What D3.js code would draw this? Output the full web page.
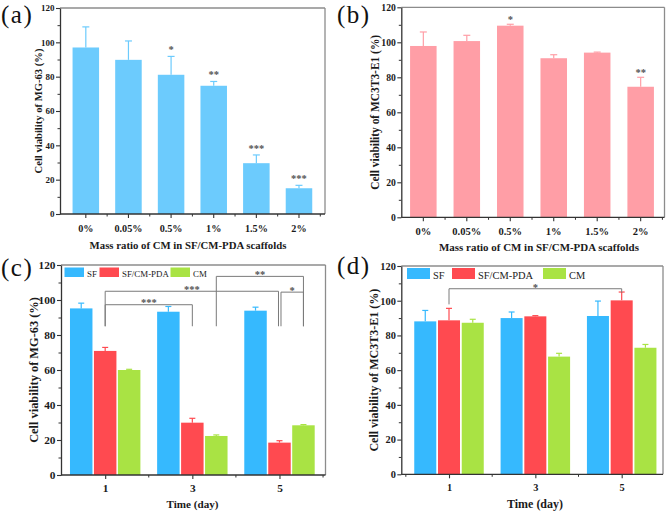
<!DOCTYPE html>
<html><head><meta charset="utf-8">
<script src="https://cdn.jsdelivr.net/npm/d3@7"></script>
<style>body{margin:0;background:#fff}svg{display:block}</style>
</head><body>
<script>
// ---------------- data ----------------
const ratioLabels = ["0%", "0.05%", "0.5%", "1%", "1.5%", "2%"];
const mg63Ratio = [97.0, 89.8, 81.1, 74.7, 29.6, 15.0];
const mg63RatioErr = [12.0, 11.0, 10.7, 2.5, 4.8, 1.7];
const mg63RatioSig = ["", "", "*", "**", "***", "***"];
const mc3t3Ratio = [97.9, 100.7, 109.5, 90.9, 94.1, 74.6];
const mc3t3RatioErr = [8.0, 3.3, 0.8, 2.0, 0.3, 5.4];
const mc3t3RatioSig = ["", "", "*", "", "", "**"];

const days = [1, 3, 5];
const groupNames = ["SF", "SF/CM-PDA", "CM"];
const mg63SF = [95.2, 93.3, 93.9], mg63SFErr = [3.0, 3.0, 2.0];
const mg63PDA = [70.9, 29.9, 18.5], mg63PDAErr = [2.0, 2.5, 1.1];
const mg63CM = [60.0, 22.3, 28.4], mg63CMErr = [0.4, 0.6, 0.4];
const mc3t3SF = [88.1, 90.0, 91.2], mc3t3SFErr = [6.3, 3.5, 8.6];
const mc3t3PDA = [88.7, 91.0, 100.2], mc3t3PDAErr = [6.9, 0.4, 4.8];
const mc3t3CM = [87.3, 67.8, 72.9], mc3t3CMErr = [2.0, 1.9, 1.9];

const yTickValues = [0, 20, 40, 60, 80, 100, 120];
const yMinorValues = [10, 30, 50, 70, 90, 110];

// significance brackets: endpoints [day, groupIndex], level & feet in %
const mg63Brackets = [
  {a: [1, 1], b: [3, 1], level: 97.3, footA: 85, footB: 85, label: "***"},
  {a: [1, 1], b: [5, 1], level: 105.0, footA: 85, footB: 85, label: "***"},
  {a: [3, 2], b: [5, 2], level: 113.5, footA: 85, footB: 85, label: "**"},
  {a: [5, 1], b: [5, 2], level: 104.5, footA: 85, footB: 85, label: "*"}
];
const mc3t3Brackets = [
  {a: [1, 1], b: [5, 1], level: 106.9, footA: 97.9, footB: 104.6, label: "*"}
];

// ---------------- style ----------------
const SERIF = '"Liberation Serif","Times New Roman",Times,serif';
const AXIS_COL = "#333";
const FRAME_COL = "#8c8c8c";
const TEXT_COL = "#1a1a1a";
const STAR_COL = "#555";
const groupColors = ["#36b9fe", "#ff4a50", "#a9e344"];

const svg = d3.select("body").append("svg").attr("width", 666).attr("height", 512);
svg.append("rect").attr("width", 666).attr("height", 512).attr("fill", "#fff");

// scale a text's font size so that its rendered width matches a target width
function fit(sel, target) {
  const w = sel.node().getComputedTextLength();
  if (w > 0) sel.attr("font-size", (+sel.attr("font-size")) * target / w);
  return sel;
}
function tickFactor(g, sampleText, target, baseSize) {
  const t = g.append("text").attr("font-family", SERIF).attr("font-weight", "bold")
    .attr("font-size", baseSize).text(sampleText);
  const w = t.node().getComputedTextLength();
  t.remove();
  return w > 0 ? baseSize * target / w : baseSize;
}

function frameAndY(g, p, y) {
  g.append("line").attr("x1", p.left).attr("x2", p.right).attr("y1", p.top).attr("y2", p.top)
    .attr("stroke", FRAME_COL).attr("stroke-width", 1.3);
  g.append("line").attr("x1", p.right).attr("x2", p.right).attr("y1", p.top).attr("y2", p.bottom)
    .attr("stroke", FRAME_COL).attr("stroke-width", 1.3);
  const ya = g.append("g").attr("transform", `translate(${p.left},0)`)
    .call(d3.axisLeft(y).tickValues(yTickValues).tickSize(4).tickSizeOuter(0).tickPadding(1.5).tickFormat(d3.format("d")));
  ya.select(".domain").attr("stroke", AXIS_COL).attr("stroke-width", 1.3);
  ya.selectAll(".tick line").attr("stroke", AXIS_COL).attr("stroke-width", 1.1);
  ya.selectAll(".tick text").attr("font-family", SERIF).attr("font-weight", "bold")
    .attr("font-size", p.tickFs).attr("fill", TEXT_COL);
  const ym = g.append("g").attr("transform", `translate(${p.left},0)`)
    .call(d3.axisLeft(y).tickValues(yMinorValues).tickSize(2.5).tickSizeOuter(0).tickFormat(""));
  ym.select(".domain").remove();
  ym.selectAll(".tick line").attr("stroke", AXIS_COL).attr("stroke-width", 1);
  const cy = (p.top + p.bottom) / 2;
  fit(g.append("text").attr("transform", `translate(${p.ytitleX},${cy}) rotate(-90)`)
    .attr("text-anchor", "middle").attr("dy", "0.35em")
    .attr("font-family", SERIF).attr("font-weight", "bold").attr("font-size", 11)
    .attr("fill", TEXT_COL).text(p.ytitle), p.ytitleW);
  fit(g.append("text").attr("x", p.xtitleX).attr("y", p.xtitleY).attr("text-anchor", "middle")
    .attr("font-family", SERIF).attr("font-weight", "bold").attr("font-size", 11)
    .attr("fill", TEXT_COL).text(p.xtitle), p.xtitleW);
  g.append("text").attr("x", p.labX).attr("y", p.labY).attr("letter-spacing", 1.5)
    .attr("font-family", SERIF).attr("font-size", 25).attr("fill", "#111").text(p.label);
}

function bottomAxisStyle(sel, fs) {
  sel.select(".domain").remove();
  sel.selectAll(".tick line").attr("stroke", AXIS_COL).attr("stroke-width", 1.1);
  sel.selectAll(".tick text").attr("font-family", SERIF).attr("font-weight", "bold")
    .attr("font-size", fs).attr("fill", TEXT_COL);
}

function errBar(g, x, yTop, yErr, color, cap) {
  g.append("line").attr("x1", x).attr("x2", x).attr("y1", yTop).attr("y2", yErr)
    .attr("stroke", color).attr("stroke-width", 1.2);
  g.append("line").attr("x1", x - cap / 2).attr("x2", x + cap / 2).attr("y1", yErr).attr("y2", yErr)
    .attr("stroke", color).attr("stroke-width", 1.2);
}

// ---------- ratio panels (a) & (b) ----------
function ratioPanel(p, values, errs, sigs, color) {
  const g = svg.append("g");
  p.tickFs = tickFactor(g, "100", p.tick100W, 10);
  const xFs = tickFactor(g, "0.05%", p.tickLabW, 10);
  const y = d3.scaleLinear().domain([0, 120]).range([p.bottom, p.top]);
  const x = d3.scaleBand().domain(ratioLabels).range(p.band).paddingInner(p.pad).paddingOuter(p.pad / 2);
  const bw = x.bandwidth();
  ratioLabels.forEach((c, i) => {
    g.append("rect").attr("x", x(c)).attr("y", y(values[i])).attr("width", bw)
      .attr("height", y(0) - y(values[i])).attr("fill", color);
    const cx = x(c) + bw / 2;
    errBar(g, cx, y(values[i]), y(values[i] + errs[i]), color, 7);
    if (sigs[i]) {
      g.append("text").attr("x", cx).attr("y", y(values[i] + errs[i]) - p.starGap)
        .attr("text-anchor", "middle").attr("font-family", SERIF).attr("font-weight", "bold")
        .attr("font-size", 10.5).attr("fill", STAR_COL).text(sigs[i]);
    }
  });
  frameAndY(g, p, y);
  const xa = g.append("g").attr("transform", `translate(0,${p.bottom})`)
    .call(d3.axisBottom(x).tickSize(4).tickSizeOuter(0).tickPadding(p.xpad));
  bottomAxisStyle(xa, xFs);
  g.append("line").attr("x1", p.left).attr("x2", p.right).attr("y1", p.bottom).attr("y2", p.bottom)
    .attr("stroke", AXIS_COL).attr("stroke-width", 1.3);
  const bounds = ratioLabels.slice(1).map(c => x(c) - x.step() * x.paddingInner() / 2);
  bounds.push(x(ratioLabels[5]) + bw + x.step() * x.paddingInner() / 2);
  bounds.forEach(bx => {
    if (bx < p.right - 1) g.append("line").attr("x1", bx).attr("x2", bx).attr("y1", p.bottom).attr("y2", p.bottom + 2.5)
      .attr("stroke", AXIS_COL).attr("stroke-width", 1);
  });
}

ratioPanel({left: 60, right: 325, top: 8, bottom: 214, band: [64.5, 320.3], pad: 0.378,
  xpad: 6.5, starGap: 3, tick100W: 13.5, tickLabW: 28,
  ytitle: "Cell viability of MG-63 (%)", ytitleX: 38, ytitleW: 125,
  xtitle: "Mass ratio of CM in SF/CM-PDA scaffolds", xtitleX: 188, xtitleY: 249, xtitleW: 197,
  label: "(a)", labX: 1, labY: 22.5}, mg63Ratio, mg63RatioErr, mg63RatioSig, "#6ccbfd");

ratioPanel({left: 401.3, right: 664.5, top: 7.3, bottom: 217.3, band: [401.6, 662.4], pad: 0.39,
  xpad: 6.2, starGap: 1, tick100W: 14.5, tickLabW: 29,
  ytitle: "Cell viability of MC3T3-E1 (%)", ytitleX: 374.5, ytitleW: 155,
  xtitle: "Mass ratio of CM in SF/CM-PDA scaffolds", xtitleX: 539, xtitleY: 251, xtitleW: 200,
  label: "(b)", labX: 337, labY: 22.5}, mc3t3Ratio, mc3t3RatioErr, mc3t3RatioSig, "#ff9ea6");

// ---------- time panels (c) & (d) ----------
function timePanel(p, series, errs, brackets, nudges) {
  const g = svg.append("g");
  p.tickFs = tickFactor(g, "100", p.tick100W, 10);
  const y = d3.scaleLinear().domain([0, 120]).range([p.bottom, p.top]);
  const x = d3.scaleLinear().domain(p.xdom).range([p.left, p.right]);
  const unit = x(1) - x(0);
  const step = unit * 0.55, bw = unit * p.bwFrac;
  const px = (d, gi) => x(d) + (gi - 1) * step;
  series.forEach((vals, gi) => {
    days.forEach((d, i) => {
      const cx = px(d, gi);
      g.append("rect").attr("x", cx - bw / 2).attr("y", y(vals[i])).attr("width", bw)
        .attr("height", y(0) - y(vals[i])).attr("fill", groupColors[gi]);
      errBar(g, cx, y(vals[i]), y(vals[i] + errs[gi][i]), groupColors[gi], 6);
    });
  });
  frameAndY(g, p, y);
  const xa = g.append("g").attr("transform", `translate(0,${p.bottom})`)
    .call(d3.axisBottom(x).tickValues(days).tickSize(4).tickSizeOuter(0).tickPadding(p.xpad).tickFormat(d3.format("d")));
  bottomAxisStyle(xa, p.tickFs);
  g.append("line").attr("x1", p.left).attr("x2", p.right).attr("y1", p.bottom).attr("y2", p.bottom)
    .attr("stroke", AXIS_COL).attr("stroke-width", 1.3);
  [0, 2, 4, 6].forEach(d => {
    const mx = x(d);
    if (mx > p.left + 1.5 && mx < p.right - 1.5)
      g.append("line").attr("x1", mx).attr("x2", mx).attr("y1", p.bottom).attr("y2", p.bottom + 2.5)
        .attr("stroke", AXIS_COL).attr("stroke-width", 1);
  });
  brackets.forEach((b, k) => {
    const n = nudges[k] || [0, 0];
    const xa1 = px(b.a[0], b.a[1]) + n[0], xb1 = px(b.b[0], b.b[1]) + n[1];
    g.append("path")
      .attr("d", `M${xa1},${y(b.footA)}V${y(b.level)}H${xb1}V${y(b.footB)}`)
      .attr("fill", "none").attr("stroke", "#7a7a7a").attr("stroke-width", 1);
    g.append("text").attr("x", (xa1 + xb1) / 2).attr("y", y(b.level) + p.starDy)
      .attr("text-anchor", "middle").attr("font-family", SERIF).attr("font-weight", "bold")
      .attr("font-size", 10.5).attr("fill", STAR_COL).text(b.label);
  });
  // legend
  const legTexts = [];
  let legFs = 10;
  groupNames.forEach((nm, gi) => {
    g.append("rect").attr("x", p.legX[gi]).attr("y", p.legY).attr("width", p.legW).attr("height", p.legH)
      .attr("fill", groupColors[gi]);
    const t = g.append("text").attr("x", p.legX[gi] + p.legW + 3).attr("y", p.legY + p.legH - 0.5)
      .attr("font-family", SERIF).attr("font-size", 10).attr("fill", "#222").text(nm);
    legTexts.push(t);
    if (gi === 1) { fit(t, p.legTextW); legFs = +t.attr("font-size"); }
  });
  legTexts.forEach(t => t.attr("font-size", legFs));
}

timePanel({left: 61, right: 325.5, top: 265, bottom: 475, xdom: [-0.014, 6.056], bwFrac: 0.516,
  xpad: 5, starDy: 1.5, tick100W: 17,
  ytitle: "Cell viability of MG-63 (%)", ytitleX: 33.5, ytitleW: 146,
  xtitle: "Time (day)", xtitleX: 192.5, xtitleY: 508, xtitleW: 52,
  label: "(c)", labX: 1, labY: 276,
  legX: [64.5, 99.5, 170.5], legY: 267.5, legW: 19.5, legH: 9.5, legTextW: 47},
  [mg63SF, mg63PDA, mg63CM], [mg63SFErr, mg63PDAErr, mg63CMErr], mg63Brackets,
  [[0, 0], [0, -1], [0, 0], [1.5, 0]]);

timePanel({left: 401.3, right: 663, top: 266, bottom: 474.3, xdom: [-0.105, 5.957], bwFrac: 0.51,
  xpad: 5.8, starDy: 2.5, tick100W: 15.5,
  ytitle: "Cell viability of MC3T3-E1 (%)", ytitleX: 374, ytitleW: 163,
  xtitle: "Time (day)", xtitleX: 535, xtitleY: 508, xtitleW: 56,
  label: "(d)", labX: 337, labY: 274,
  legX: [407, 452, 543], legY: 268, legW: 23, legH: 11, legTextW: 55},
  [mc3t3SF, mc3t3PDA, mc3t3CM], [mc3t3SFErr, mc3t3PDAErr, mc3t3CMErr], mc3t3Brackets, [[0, 0]]);
</script>
</body></html>
